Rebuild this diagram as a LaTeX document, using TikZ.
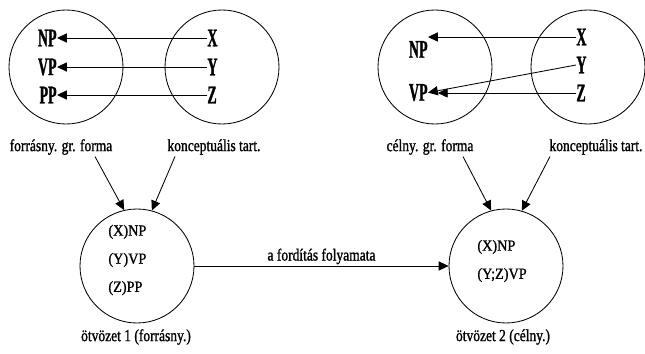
\documentclass[tikz,border=0pt]{standalone}
\usepackage{fontspec}
\setmainfont{Liberation Serif}
\newfontfamily\narrowserif[FakeStretch=0.8,FakeBold=1.2]{Liberation Serif}
\newfontfamily\tallserif[FakeStretch=0.55,FakeBold=1]{Liberation Serif}
\newfontfamily\plainserif[FakeStretch=0.92,FakeBold=1]{Liberation Serif}
\usepackage{tikz}
\usetikzlibrary{arrows.meta,positioning,calc}

\begin{document}
\begin{tikzpicture}[
    >={Triangle[length=7pt,width=6.5pt]},
    line width=0.6pt,
    every node/.style={align=center},
    ring/.style={draw, circle, minimum size=2.85cm, inner sep=0pt},
    sym/.style={font=\tallserif\bfseries\fontsize{18}{18}\selectfont, inner sep=0pt},
    lbl/.style={font=\narrowserif\fontsize{12}{14}\selectfont, inner sep=1pt},
    cont/.style={font=\plainserif\fontsize{11}{20}\selectfont, align=left, anchor=west, inner sep=0pt},
    arr/.style={->},
  ]
    \useasboundingbox (0,0) rectangle (16.125,8.825);

    % --- source side: form and content ---
    \node[ring] (srcform) at (1.65,7.15) {};
    \node[ring] (srccont) at (5.55,7.15) {};
    \node[sym, anchor=east] (sNP) at (1.425,7.875) {NP};
    \node[sym, anchor=east] (sVP) at (1.425,7.15) {VP};
    \node[sym, anchor=east] (sPP) at (1.425,6.45) {PP};
    \node[sym, anchor=west] (sX) at (5.175,7.875) {X};
    \node[sym, anchor=west] (sY) at (5.175,7.15) {Y};
    \node[sym, anchor=west] (sZ) at (5.175,6.45) {Z};
    \draw[arr] (sX) -- (sNP);
    \draw[arr] (sY) -- (sVP);
    \draw[arr] (sZ) -- (sPP);

    % --- target side: form and content ---
    \node[ring] (tgtform) at (10.875,7.15) {};
    \node[ring] (tgtcont) at (14.7,7.15) {};
    \node[sym, anchor=east] (tNP) at (10.7,7.59) {NP};
    \node[sym, anchor=east] (tVP) at (10.7,6.51) {VP};
    \node[sym, anchor=west] (tX) at (14.4,7.9) {X};
    \node[sym, anchor=west] (tY) at (14.4,7.2) {Y};
    \node[sym, anchor=west] (tZ) at (14.4,6.5) {Z};
    \draw[arr] (tX.west) -- (tX.west -| tNP.east);
    \draw[arr] (tY.west) -- (tVP.east);
    \draw[arr, shorten >=7pt] (tZ.west) -- (tZ.west -| tVP.east);

    % --- labels under the top circles ---
    \node[lbl] (lsrcform) at (1.525,5.15) {forrásny. gr. forma};
    \node[lbl] (lsrccont) at (5.35,5.15) {konceptuális tart.};
    \node[lbl] (ltgtform) at (10.75,5.15) {célny. gr. forma};
    \node[lbl] (ltgtcont) at (14.9,5.15) {konceptuális tart.};

    % --- blends ---
    \node[ring] (blend1) at (3.425,2.175) {};
    \node[ring] (blend2) at (12.65,2.175) {};
    \node[cont] (txt1) at (2.7,2.325) {(X)NP\\(Y)VP\\(Z)PP};
    \node[cont] (txt2) at (11.925,2.3) {(X)NP\\(Y;Z)VP};
    \node[lbl] (lblend1) at (3.4,0.4) {ötvözet 1 (forrásny.)};
    \node[lbl] (lblend2) at (12.575,0.4) {ötvözet 2 (célny.)};

    % --- labels fan into the blends ---
    \draw[arr] ([xshift=0.85cm]lsrcform.south) -- (blend1.103);
    \draw[arr] ([xshift=-0.975cm]lsrccont.south) -- (blend1.75);
    \draw[arr] ([xshift=0.825cm]ltgtform.south) -- (blend2.105);
    \draw[arr] ([xshift=-1.15cm]ltgtcont.south) -- (blend2.74);

    % --- translation step ---
    \draw[arr] (blend1) -- node[lbl, above] (lstep) {a fordítás folyamata} (blend2);
  \end{tikzpicture}
\end{document}
